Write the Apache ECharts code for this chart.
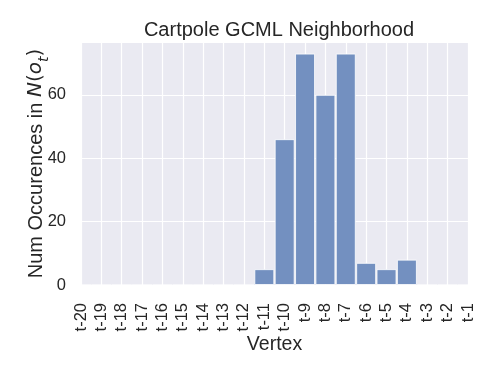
<!DOCTYPE html>
<html>
<head>
<meta charset="utf-8">
<script src="https://cdn.jsdelivr.net/npm/echarts@6/dist/echarts.min.js"></script>
<style>
  html, body { margin: 0; padding: 0; background: #fff; }
  #chart { width: 498px; height: 374px; }
</style>
</head>
<body>
<div id="chart"></div>
<script>
const vertices = ['t-20', 't-19', 't-18', 't-17', 't-16', 't-15', 't-14', 't-13', 't-12', 't-11',
  't-10', 't-9', 't-8', 't-7', 't-6', 't-5', 't-4', 't-3', 't-2', 't-1'];
const counts = [0, 0, 0, 0, 0, 0, 0, 0, 0, 5, 46, 73, 60, 73, 7, 5, 8, 0, 0, 0];
const yTicks = [0, 20, 40, 60];

const textColor = '#262626';
const font = 'Liberation Sans, Arial, sans-serif';
const mathFont = 'DejaVu Sans, sans-serif';

const chart = echarts.init(document.getElementById('chart'), null, {
  width: 498,
  height: 374,
  renderer: 'canvas',
  devicePixelRatio: 1,
});

chart.setOption({
  animation: false,
  backgroundColor: '#ffffff',
  title: {
    text: 'Cartpole GCML Neighborhood',
    left: 274,
    top: 15,
    textAlign: 'center',
    textStyle: { fontFamily: font, fontSize: 20, fontWeight: 'normal', color: textColor }
  },
  grid: {
    left: 81,
    right: 30,
    top: 42,
    bottom: 89,
    show: true,
    backgroundColor: '#eaeaf2',
    borderWidth: 0
  },
  xAxis: {
    type: 'category',
    data: vertices,
    boundaryGap: false,
    name: 'Vertex',
    nameLocation: 'middle',
    nameMoveOverlap: false,
    nameGap: 50,
    nameTextStyle: { fontFamily: font, fontSize: 19.5, color: textColor },
    axisLine: { show: false },
    axisTick: { show: false },
    axisLabel: {
      rotate: 90,
      interval: 0,
      margin: 18,
      fontFamily: font,
      fontSize: 16.5,
      color: textColor
    },
    splitLine: { show: true, lineStyle: { color: '#ffffff', width: 1.2 } }
  },
  yAxis: {
    type: 'value',
    min: yTicks[0],
    max: 73 * 1.05,
    interval: 20,
    name: '{n|Num Occurences in }{i|N}{m|(}{i|o}{s|t}{m|)}',
    nameLocation: 'middle',
    nameMoveOverlap: false,
    nameGap: 35,
    nameRotate: 90,
    nameTextStyle: {
      fontFamily: font,
      fontSize: 20,
      color: textColor,
      rich: {
        n: { fontFamily: font, fontSize: 20, color: textColor, verticalAlign: 'bottom' },
        m: { fontFamily: mathFont, fontSize: 20, color: textColor, verticalAlign: 'bottom' },
        i: { fontFamily: mathFont, fontSize: 20, fontStyle: 'italic', color: textColor, verticalAlign: 'bottom' },
        s: { fontFamily: mathFont, fontSize: 14, fontStyle: 'italic', color: textColor, verticalAlign: 'bottom', padding: [0, 0, -5, 0] }
      }
    },
    axisLine: { show: false },
    axisTick: { show: false },
    axisLabel: {
      showMaxLabel: false,
      margin: 15,
      fontFamily: font,
      fontSize: 16.5,
      color: textColor
    },
    splitLine: { show: true, lineStyle: { color: '#ffffff', width: 1.2 } }
  },
  series: [{
    type: 'bar',
    data: counts,
    barWidth: 20,
    itemStyle: {
      color: '#7390c0',
      borderColor: 'rgba(255,255,255,0.8)',
      borderWidth: 1
    }
  }]
});
</script>
</body>
</html>
